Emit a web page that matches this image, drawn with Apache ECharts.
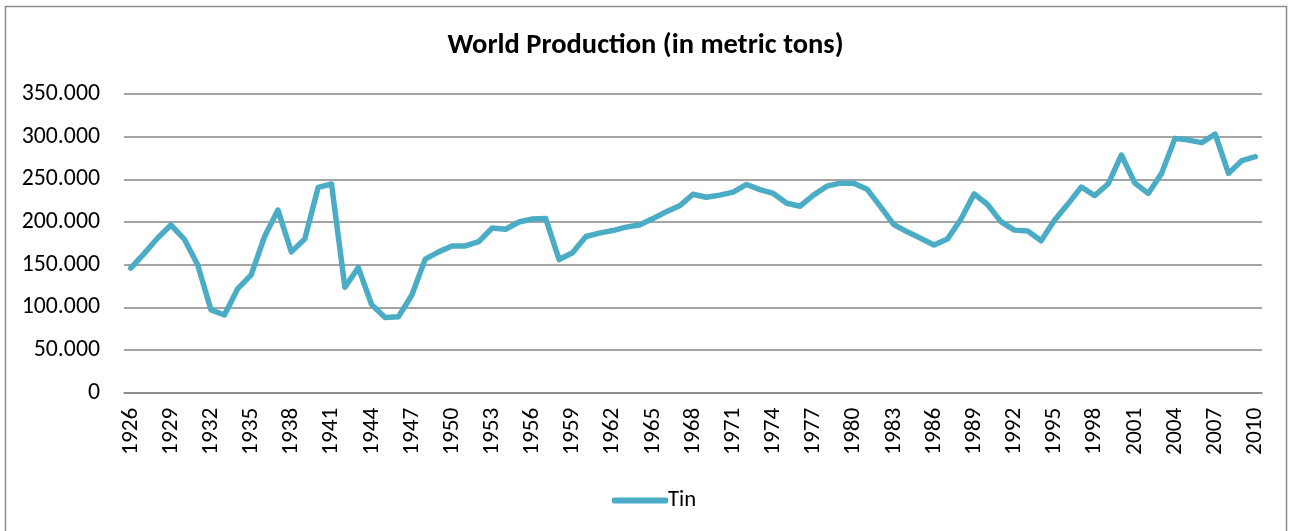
<!DOCTYPE html>
<html>
<head>
<meta charset="utf-8">
<script src="https://cdn.jsdelivr.net/npm/echarts@6/dist/echarts.min.js"></script>
<style>
  html, body { margin: 0; padding: 0; background: #fff; }
  #chart { width: 1291px; height: 531px; }
</style>
</head>
<body>
<div id="chart"></div>
<script>
// Years on the category axis
const years = [
  '1926','1927','1928','1929','1930','1931','1932','1933','1934','1935',
  '1936','1937','1938','1939','1940','1941','1942','1943','1944','1945',
  '1946','1947','1948','1949','1950','1951','1952','1953','1954','1955',
  '1956','1957','1958','1959','1960','1961','1962','1963','1964','1965',
  '1966','1967','1968','1969','1970','1971','1972','1973','1974','1975',
  '1976','1977','1978','1979','1980','1981','1982','1983','1984','1985',
  '1986','1987','1988','1989','1990','1991','1992','1993','1994','1995',
  '1996','1997','1998','1999','2000','2001','2002','2003','2004','2005',
  '2006','2007','2008','2009','2010'
];

// World tin production, metric tons
const tin = [
  146000, 163000, 181000, 196500, 180000, 150000,  97000,  91000, 122000, 138000,
  183000, 214000, 165000, 180000, 240500, 244500, 123500, 146500, 103000,  88000,
   89000, 114500, 156500, 165000, 172000, 172000, 177000, 193000, 191500, 200000,
  203500, 204000, 156000, 164000, 183000, 187000, 190000, 194000, 196500, 204000,
  212000, 219000, 232500, 229000, 231500, 235000, 244000, 238000, 233500, 222000,
  218500, 231500, 242000, 245500, 245500, 238500, 218000, 197000, 188500, 181000,
  173000, 180000, 203000, 233000, 220500, 200500, 190500, 189500, 178000, 202000,
  221000, 241000, 231000, 244500, 278500, 245500, 233500, 257000, 298000, 296000,
  293000, 303000, 257000, 272000, 276500
];

// Value axis ticks
const yTicks = { min: 0, max: 350000, step: 50000 };

const FONT = 'Carlito, Calibri, Lato, sans-serif';

// Thousands separated with dots, e.g. 350.000
function fmtThousands(v) {
  return String(v).replace(/\B(?=(\d{3})+(?!\d))/g, '.');
}

const chart = echarts.init(document.getElementById('chart'), null, { renderer: 'canvas' });

chart.setOption({
  backgroundColor: '#ffffff',
  animation: false,
  textStyle: { fontFamily: FONT },
  graphic: [{
    type: 'rect',
    shape: { x: 5.5, y: 6.5, width: 1281, height: 560 },
    style: { fill: 'none', stroke: '#8e8e8e', lineWidth: 1.5 },
    silent: true,
    z: -1
  }],
  title: {
    text: 'World Production (in metric tons)',
    left: 'center',
    top: 26,
    textStyle: { fontFamily: FONT, fontWeight: 'bold', fontSize: 28.5, color: '#000' }
  },
  legend: {
    data: ['Tin'],
    left: 607,
    top: 484,
    itemWidth: 56,
    itemHeight: 6,
    icon: 'roundRect',
    textStyle: { fontFamily: FONT, fontSize: 22.7, color: '#000', padding: [0, 0, 0, -5] }
  },
  grid: { left: 124, right: 29, top: 94, bottom: 138.3, containLabel: false },
  xAxis: {
    type: 'category',
    data: years,
    boundaryGap: true,
    axisLine: { show: true, lineStyle: { color: '#868686', width: 1.5 } },
    axisTick: { show: false },
    axisLabel: {
      interval: 2,
      rotate: 90,
      margin: 15,
      fontFamily: FONT,
      fontSize: 23.3,
      color: '#000'
    },
    splitLine: { show: false }
  },
  yAxis: {
    type: 'value',
    min: yTicks.min,
    max: yTicks.max,
    interval: yTicks.step,
    axisLine: { show: false },
    axisTick: { show: false },
    axisLabel: {
      margin: 24,
      fontFamily: FONT,
      fontSize: 23.8,
      color: '#000',
      formatter: fmtThousands
    },
    splitLine: { show: true, lineStyle: { color: '#868686', width: 1.5 } }
  },
  series: [{
    name: 'Tin',
    type: 'line',
    data: tin,
    showSymbol: false,
    smooth: false,
    color: '#4BACC6',
    lineStyle: { color: '#4BACC6', width: 5.5, join: 'round', cap: 'round' }
  }]
});
</script>
</body>
</html>
